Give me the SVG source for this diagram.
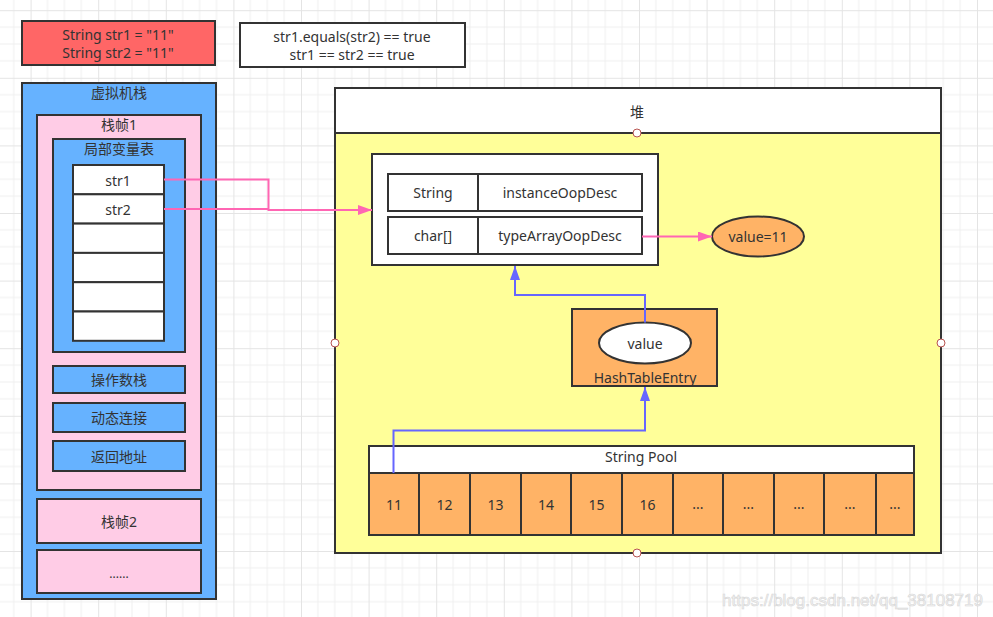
<svg xmlns="http://www.w3.org/2000/svg" width="993" height="617" viewBox="0 0 993 617">
<style>
text{font-family:"Noto Sans","Noto Sans CJK SC",sans-serif;font-size:14px;fill:#333;text-anchor:middle;dominant-baseline:central}
.box{stroke:#333;stroke-width:2}
.blue{fill:#66b2ff}
.pink{fill:#ffcce6}
.white{fill:#fff}
.orange{fill:#ffb366}
.yellow{fill:#ffff99}
.red{fill:#ff6666}
.pk{fill:none;stroke:#ff66b3;stroke-width:2}
.bl{fill:none;stroke:#6666ff;stroke-width:2}
.pt{fill:#fff;stroke:#b85450;stroke-width:1}
</style>
<defs>
<pattern id="grid" x="30.6" y="10.2" width="67.6" height="67.6" patternUnits="userSpaceOnUse">
<path d="M16.9 0V67.6M33.8 0V67.6M50.7 0V67.6M0 16.9H67.6M0 33.8H67.6M0 50.7H67.6" stroke="#f0f0f0" stroke-width="1" fill="none"/>
<path d="M0.5 0V67.6M0 0.5H67.6" stroke="#e4e4e4" stroke-width="1" fill="none"/>
</pattern>
<marker id="apk" markerWidth="14" markerHeight="10" refX="14" refY="5" orient="auto" markerUnits="userSpaceOnUse"><path d="M0 0L14 5L0 10z" fill="#ff66b3"/></marker>
<marker id="abl" markerWidth="14" markerHeight="10" refX="14" refY="5" orient="auto" markerUnits="userSpaceOnUse"><path d="M0 0L14 5L0 10z" fill="#6666ff"/></marker>
</defs>
<rect width="993" height="617" fill="#fff"/>
<rect width="993" height="617" fill="url(#grid)"/>

<g id="decl"><rect class="box red" x="22" y="21" width="193" height="44"/><text x="118" y="34">String str1 = "11"</text><text x="118" y="52">String str2 = "11"</text></g>
<g id="result"><rect class="box white" x="240" y="23" width="225" height="44"/><text x="352" y="36">str1.equals(str2) == true</text><text x="352" y="54">str1 == str2 == true</text></g>

<g id="vmstack"><rect class="box blue" x="22" y="83" width="194" height="516"/><text x="119" y="92">虚拟机栈</text></g>
<g id="frame1"><rect class="box pink" x="37" y="115" width="164" height="375"/><text x="119" y="124">栈帧1</text></g>
<g id="localvars"><rect class="box blue" x="53" y="139" width="132" height="213"/><text x="119" y="148">局部变量表</text></g>
<g id="slot-str1"><rect class="box white" x="73" y="165" width="91" height="29.3"/><text x="118" y="180">str1</text></g>
<g id="slot-str2"><rect class="box white" x="73" y="194.3" width="91" height="29.3"/><text x="118" y="209">str2</text></g>
<g id="slot3"><rect class="box white" x="73" y="223.6" width="91" height="29.3"/></g>
<g id="slot4"><rect class="box white" x="73" y="252.9" width="91" height="29.3"/></g>
<g id="slot5"><rect class="box white" x="73" y="282.2" width="91" height="29.3"/></g>
<g id="slot6"><rect class="box white" x="73" y="311.5" width="91" height="29.3"/></g>
<g id="opstack"><rect class="box blue" x="53" y="366" width="132" height="27"/><text x="119" y="379.5">操作数栈</text></g>
<g id="dynlink"><rect class="box blue" x="53" y="403" width="132" height="29"/><text x="119" y="417.5">动态连接</text></g>
<g id="retaddr"><rect class="box blue" x="53" y="441" width="132" height="30"/><text x="119" y="456">返回地址</text></g>
<g id="frame2"><rect class="box pink" x="37" y="499" width="164" height="44"/><text x="119" y="521">栈帧2</text></g>
<g id="frame-more"><rect class="box pink" x="37" y="550" width="164" height="43"/><text x="119" y="573" style="font-size:12px">......</text></g>

<g id="heap"><rect class="box yellow" x="335" y="88" width="606" height="465"/><rect class="box white" x="335" y="88" width="606" height="45"/><text x="637" y="111">堆</text>
<circle class="pt" cx="637" cy="133" r="4"/><circle class="pt" cx="335" cy="343" r="4"/><circle class="pt" cx="941" cy="343" r="4"/><circle class="pt" cx="637" cy="553" r="4"/></g>

<g id="strobj"><rect class="box white" x="372" y="154" width="286" height="111"/>
<rect class="box white" x="388" y="174" width="90" height="37"/><text x="433" y="192.5">String</text>
<rect class="box white" x="478" y="174" width="164" height="37"/><text x="560" y="192.5">instanceOopDesc</text>
<rect class="box white" x="388" y="217" width="90" height="37"/><text x="433" y="235.5">char[]</text>
<rect class="box white" x="478" y="217" width="164" height="37"/><text x="560" y="235.5">typeArrayOopDesc</text></g>

<g id="value11"><ellipse class="box orange" cx="758" cy="236.5" rx="46" ry="20"/><text x="758" y="236.5">value=11</text></g>

<g id="hashentry"><rect class="box orange" x="572" y="309" width="145" height="77"/><ellipse class="box white" cx="645" cy="343" rx="46" ry="20.5"/><text x="645" y="343">value</text><text x="645" y="377">HashTableEntry</text></g>

<g id="stringpool"><rect class="box white" x="369" y="446" width="545" height="27"/><text x="641" y="456">String Pool</text>
<rect class="box orange" x="369" y="473" width="50" height="62"/><text x="394" y="504">11</text>
<rect class="box orange" x="419" y="473" width="51" height="62"/><text x="444.5" y="504">12</text>
<rect class="box orange" x="470" y="473" width="51" height="62"/><text x="495.5" y="504">13</text>
<rect class="box orange" x="521" y="473" width="50" height="62"/><text x="546" y="504">14</text>
<rect class="box orange" x="571" y="473" width="51" height="62"/><text x="596.5" y="504">15</text>
<rect class="box orange" x="622" y="473" width="51" height="62"/><text x="647.5" y="504">16</text>
<rect class="box orange" x="673" y="473" width="50" height="62"/><text x="698" y="503">...</text>
<rect class="box orange" x="723" y="473" width="51" height="62"/><text x="748.5" y="503">...</text>
<rect class="box orange" x="774" y="473" width="50" height="62"/><text x="799" y="503">...</text>
<rect class="box orange" x="824" y="473" width="52" height="62"/><text x="850" y="503">...</text>
<rect class="box orange" x="876" y="473" width="38" height="62"/><text x="895" y="503">...</text></g>

<g id="connectors">
<path class="pk" d="M164 179.5H268.5V210H372" marker-end="url(#apk)"/>
<path class="pk" d="M164 209H268.5"/>
<path class="pk" d="M642 236.5H712" marker-end="url(#apk)"/>
<path class="bl" d="M645 322.5V295H515V266" marker-end="url(#abl)"/>
<path class="bl" d="M393.5 473V430.5H645V387" marker-end="url(#abl)"/>
</g>

<text x="983" y="600" style="font-family:'Liberation Sans',Arial,sans-serif;font-size:17px;text-anchor:end;fill:#f4f4f4;stroke:#d6d6d6;stroke-width:0.6">https://blog.csdn.net/qq_38108719</text>
</svg>
